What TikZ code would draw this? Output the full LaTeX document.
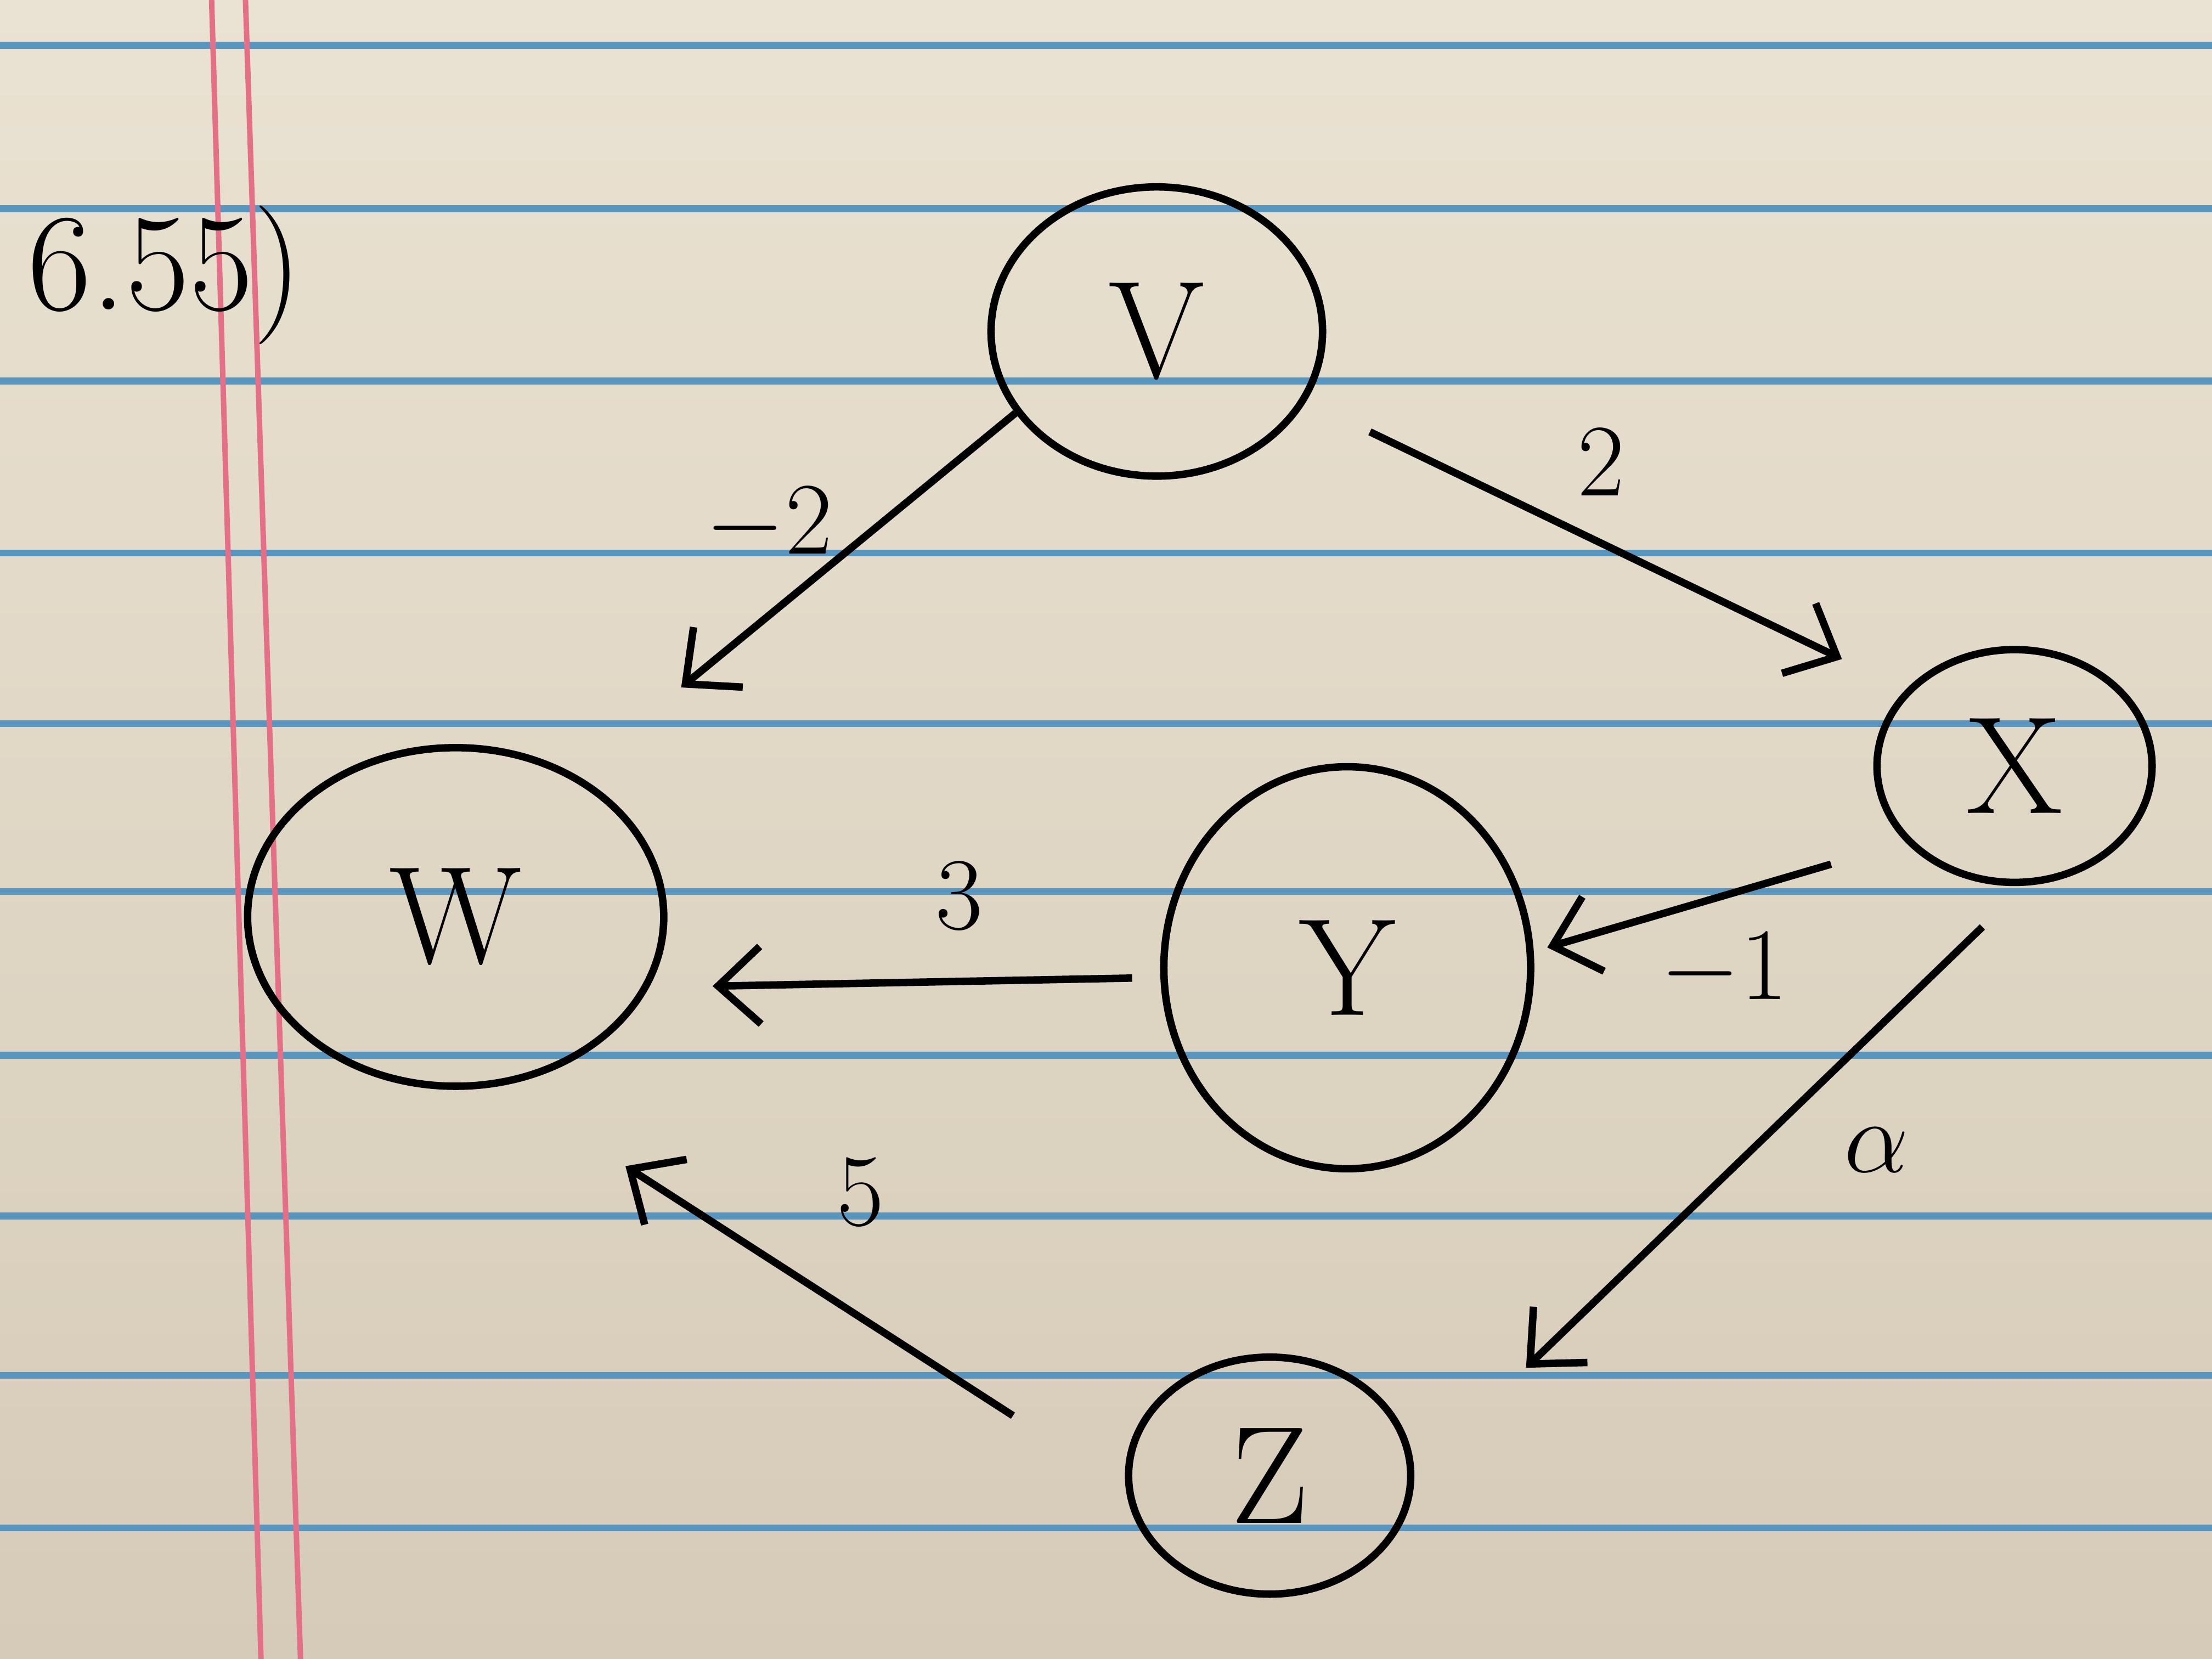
\documentclass[tikz,border=0pt]{standalone}
\usepackage{amsmath}
\usetikzlibrary{shapes.geometric,arrows.meta}
\definecolor{papertop}{RGB}{234,226,210}
\definecolor{paperbot}{RGB}{214,203,184}
\definecolor{ruleblue}{RGB}{88,150,192}
\definecolor{marginred}{RGB}{228,112,136}

\begin{document}
\begin{tikzpicture}[x=1cm,y=-1cm,
  vert/.style={draw,ellipse,line width=1.5pt,inner sep=0pt,font=\fontsize{28}{32}\selectfont},
  edge/.style={->,line width=1.5pt,>={Straight Barb[length=3mm,width=5.5mm]}},
  wt/.style={font=\fontsize{20}{24}\selectfont}]
\useasboundingbox (0,0) rectangle (15.68,11.76);
% paper
\shade[top color=papertop,bottom color=paperbot] (0,0) rectangle (15.68,11.76);
\foreach \y in {0.32,1.48,2.70,3.92,5.13,6.32,7.48,8.62,9.75,10.83}
  \draw[ruleblue,line width=1.4pt] (0,\y) -- (15.68,\y);
\draw[marginred,line width=1.1pt] (1.50,0) -- (1.85,11.76);
\draw[marginred,line width=1.1pt] (1.74,0) -- (2.13,11.76);
% vertices
\node[font=\fontsize{28}{32}\selectfont] (prob) at (1.17,1.95) {6.55)};
\node[vert,minimum width=2.35cm,minimum height=2.05cm] (V) at (8.2,2.35) {V};
\node[vert,minimum width=1.95cm,minimum height=1.65cm] (X) at (14.28,5.43) {X};
\node[vert,minimum width=2.6cm,minimum height=2.85cm] (Y) at (9.55,6.86) {Y};
\node[vert,minimum width=2.95cm,minimum height=2.4cm] (W) at (3.23,6.5) {W};
\node[vert,minimum width=2.0cm,minimum height=1.68cm] (Z) at (9.0,10.46) {Z};
% weighted edges
\draw[edge,shorten >=9.7mm] (V.210) -- (W.50) node[wt,at={(5.45,3.72)}] (lvw) {$-2$};
\draw[edge,shorten <=5mm,shorten >=5mm] (V.-25) -- (X.145) node[wt,at={(11.35,3.28)}] (lvx) {$2$};
\draw[edge,shorten <=5.5mm,shorten >=1mm] (X.215) -- (Y.5) node[wt,at={(12.22,6.88)}] (lxy) {$-1$};
\draw[edge,shorten <=2mm,shorten >=4.5mm] (Y.183) -- (W.-20) node[wt,at={(6.8,6.35)}] (lyw) {$3$};
\draw[edge,shorten <=4.2mm,shorten >=11mm] (X.275) -- (Z.0) node[wt,at={(13.3,8.15)}] (lxz) {$\alpha$};
\draw[edge,shorten <=9.5mm,shorten >=10.5mm] (Z.185) -- (W.-75) node[wt,at={(6.1,8.45)}] (lzw) {$5$};
\end{tikzpicture}
\end{document}
